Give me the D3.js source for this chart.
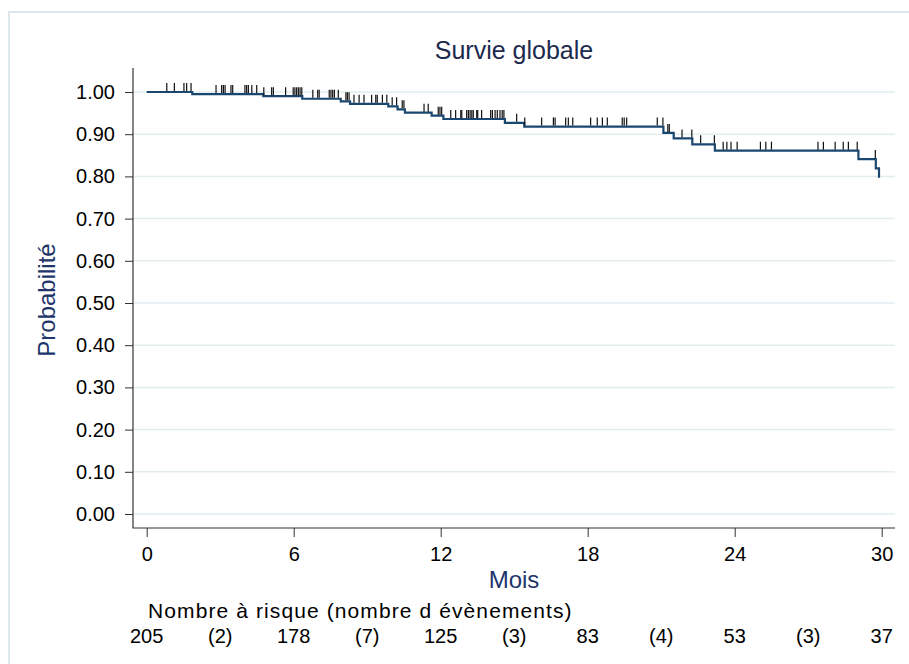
<!DOCTYPE html>
<html>
<head>
<meta charset="utf-8">
<script src="https://cdn.jsdelivr.net/npm/d3@7"></script>
<style>
  body { margin: 0; background: #fff; }
  svg { display: block; font-family: "Liberation Sans", Arial, sans-serif; }
</style>
</head>
<body>
<svg id="chart" width="909" height="664"></svg>
<script>
// Kaplan-Meier steps: time of each event (months) and survival after it
const eventTimes = [1.86, 4.76, 6.35, 7.92, 8.30, 9.86, 10.24, 10.54, 11.63, 12.11,
  14.62, 15.41, 21.09, 21.51, 22.27, 23.19, 29.05, 29.76, 29.89];
const survival = [0.995, 0.990, 0.984, 0.978, 0.972, 0.966, 0.959, 0.951, 0.944, 0.936,
  0.927, 0.918, 0.903, 0.890, 0.876, 0.861, 0.841, 0.819, 0.797];

// censored observations (months)
const censorTimes = [0.82, 1.13, 1.52, 1.63, 1.81, 2.83, 3.06, 3.13, 3.20, 3.44, 3.51,
  4.01, 4.08, 4.15, 4.29, 4.49, 4.78, 5.10, 5.17, 5.67, 5.98, 6.05, 6.12, 6.19, 6.26, 6.33,
  6.78, 6.98, 7.04, 7.45, 7.52, 7.59, 7.66, 7.82, 8.13, 8.19, 8.26, 8.46, 8.67, 8.87,
  9.18, 9.35, 9.41, 9.62, 9.80, 10.02, 10.20, 10.43, 10.50, 11.32, 11.49, 11.90, 11.97,
  12.04, 12.41, 12.61, 12.82, 12.86, 13.06, 13.13, 13.20, 13.27, 13.33, 13.47, 13.51,
  13.67, 14.04, 14.11, 14.22, 14.31, 14.42, 14.51, 14.58, 15.10, 15.43, 16.12, 16.60,
  16.67, 17.10, 17.21, 17.39, 18.12, 18.39, 18.60, 18.80, 19.41, 19.49, 19.59, 20.84,
  21.07, 21.27, 21.33, 21.85, 22.25, 22.61, 23.17, 23.53, 23.68, 23.85, 24.10, 25.05,
  25.27, 25.50, 27.40, 27.62, 28.10, 28.43, 28.64, 29.00, 29.74];

// number at risk table
const riskTimes = [0, 6, 12, 18, 24, 30];
const atRisk = [205, 178, 125, 83, 53, 37];
const eventCounts = [2, 7, 3, 4, 3];

const xTicks = [0, 6, 12, 18, 24, 30];
const yTicks = [0, 0.1, 0.2, 0.3, 0.4, 0.5, 0.6, 0.7, 0.8, 0.9, 1.0];

const svg = d3.select("#chart");
const plot = { left: 133, right: 895, top: 68, bottom: 528 };

const x = d3.scaleLinear().domain([0, 30]).range([146.7, 881.7]);
const y = d3.scaleLinear().domain([0, 1]).range([514, 92]);

// outer graph frame
svg.append("rect")
  .attr("x", 9).attr("y", 12)
  .attr("width", 920).attr("height", 680)
  .attr("fill", "none")
  .attr("stroke", "#dce8eb")
  .attr("stroke-width", 2);

// grid
svg.append("g")
  .selectAll("line")
  .data(yTicks)
  .join("line")
  .attr("x1", plot.left).attr("x2", plot.right)
  .attr("y1", (d) => y(d)).attr("y2", (d) => y(d))
  .attr("stroke", "#e3edf0")
  .attr("stroke-width", 1.5);

// axes
const yAxis = svg.append("g")
  .attr("transform", `translate(${plot.left},0)`)
  .call(d3.axisLeft(y).tickValues(yTicks).tickFormat(d3.format(".2f")).tickSize(8).tickPadding(10));
const xAxis = svg.append("g")
  .attr("transform", `translate(0,${plot.bottom})`)
  .call(d3.axisBottom(x).tickValues(xTicks).tickSize(9).tickPadding(10));

[yAxis, xAxis].forEach((g) => {
  g.select(".domain").remove();
  g.selectAll(".tick line").attr("stroke", "#333");
  g.selectAll(".tick text").attr("fill", "#000").style("font-size", "20px").style("font-family", "Liberation Sans, Arial, sans-serif");
});

svg.append("path")
  .attr("d", `M${plot.left},${plot.top}V${plot.bottom}H${plot.right}`)
  .attr("fill", "none")
  .attr("stroke", "#333")
  .attr("stroke-width", 1.2);

// survival step curve
const steps = [{ t: 0, s: 1 }].concat(eventTimes.map((t, i) => ({ t, s: survival[i] })));
let pathD = `M${x(0)},${y(1)}`;
steps.slice(1).forEach((d) => {
  pathD += `H${x(d.t)}V${y(d.s)}`;
});
svg.append("path")
  .attr("d", pathD)
  .attr("fill", "none")
  .attr("stroke", "#1a476f")
  .attr("stroke-width", 2.2);

const survAt = (t) => {
  let s = 1;
  eventTimes.forEach((et, i) => { if (et <= t) s = survival[i]; });
  return s;
};

// censor marks
svg.append("g")
  .selectAll("line")
  .data(censorTimes)
  .join("line")
  .attr("x1", (d) => x(d)).attr("x2", (d) => x(d))
  .attr("y1", (d) => y(survAt(d)) - 1)
  .attr("y2", (d) => y(survAt(d)) - 9)
  .attr("stroke", "#111")
  .attr("stroke-width", 1.2);

// titles
svg.append("text")
  .attr("x", 514).attr("y", 59)
  .attr("text-anchor", "middle")
  .attr("fill", "#1c2a4e")
  .style("font-size", "25px")
  .text("Survie globale");

svg.append("text")
  .attr("x", 514).attr("y", 588)
  .attr("text-anchor", "middle")
  .attr("fill", "#22356a")
  .style("font-size", "24px")
  .text("Mois");

svg.append("text")
  .attr("transform", `translate(55,${(plot.top + plot.bottom) / 2 + 2}) rotate(-90)`)
  .attr("text-anchor", "middle")
  .attr("fill", "#22356a")
  .style("font-size", "24px")
  .text("Probabilité");

// risk table
svg.append("text")
  .attr("x", 148).attr("y", 618)
  .attr("fill", "#000")
  .style("font-size", "21px")
  .style("letter-spacing", "1.1px")
  .text("Nombre à risque (nombre d évènements)");

const riskRow = svg.append("g").style("font-size", "20px").attr("fill", "#000");
riskRow.selectAll("text.risk")
  .data(riskTimes.map((t, i) => ({ t, v: atRisk[i] })))
  .join("text")
  .attr("class", "risk")
  .attr("x", (d) => x(d.t)).attr("y", 643)
  .attr("text-anchor", "middle")
  .text((d) => d.v);
riskRow.selectAll("text.ev")
  .data(eventCounts.map((v, i) => ({ t: (riskTimes[i] + riskTimes[i + 1]) / 2, v })))
  .join("text")
  .attr("class", "ev")
  .attr("x", (d) => x(d.t)).attr("y", 643)
  .attr("text-anchor", "middle")
  .text((d) => `(${d.v})`);
</script>
</body>
</html>
